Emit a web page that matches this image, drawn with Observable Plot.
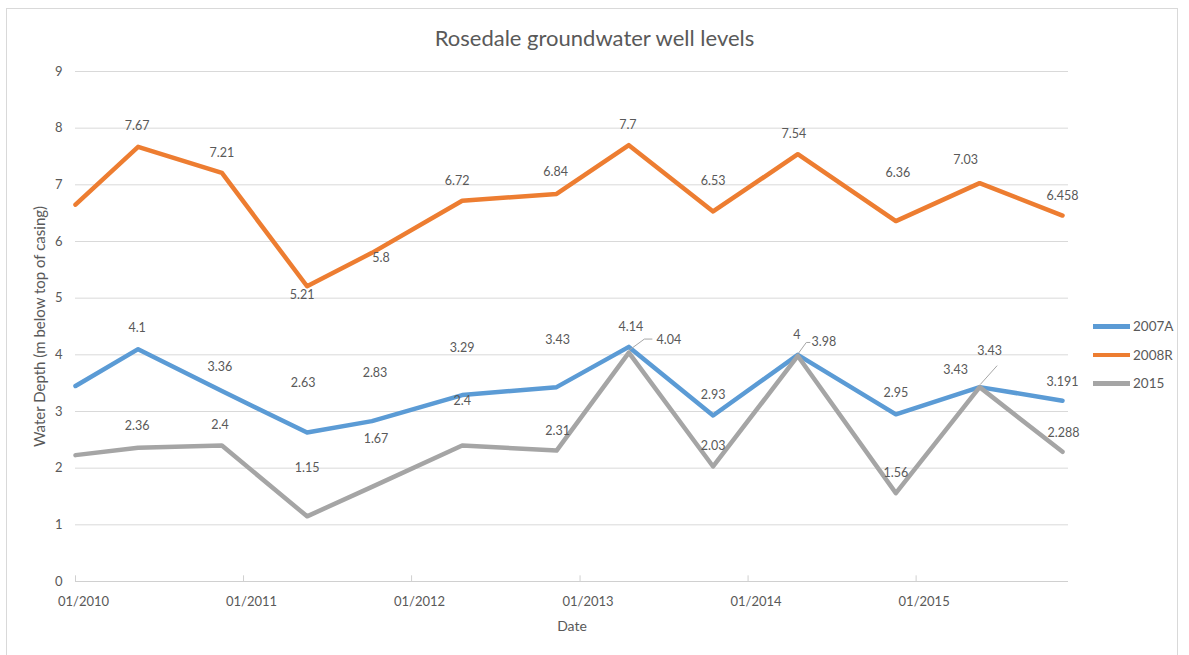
<!DOCTYPE html>
<html>
<head>
<meta charset="utf-8">
<script src="https://cdn.jsdelivr.net/npm/d3@7"></script>
<script src="https://cdn.jsdelivr.net/npm/@observablehq/plot@0.6"></script>
<style>
  body { margin: 0; background: #fff; }
  #chart { position: relative; width: 1189px; height: 655px; overflow: hidden;
           font-family: Lato, "Open Sans", sans-serif; color: #595959; background: #fff; }
  #frame { position: absolute; left: 6px; top: 8px; width: 1172px; height: 680px;
           border: 1px solid #d9d9d9; box-sizing: border-box; }
  #title { position: absolute; left: 0; top: 24px; width: 1189px; text-align: center;
           font-size: 22px; }
  #plot { position: absolute; left: 0; top: 0; }
  #legend { position: absolute; left: 1093px; top: 312px; font-size: 13.5px; }
  .item { display: flex; align-items: center; height: 28.5px; }
  .swatch { width: 37px; height: 4.5px; margin-right: 3px; }
</style>
</head>
<body>
<div id="chart">
  <div id="frame"></div>
  <div id="title">Rosedale groundwater well levels</div>
  <div id="plot"></div>
  <div id="legend"></div>
</div>
<script>
// Survey dates and measured water depths (m below top of casing) for each well
const dates = ["2010-01-01", "2010-05-17", "2010-11-15", "2011-05-19", "2011-10-07",
               "2012-04-20", "2012-11-11", "2013-04-17", "2013-10-17", "2014-04-19",
               "2014-11-18", "2015-05-19", "2015-11-15"];
const wellNames = ["2007A", "2008R", "2015"];
const well2007A = [3.45, 4.1, 3.36, 2.63, 2.83, 3.29, 3.43, 4.14, 2.93, 4, 2.95, 3.43, 3.191];
const well2008R = [6.65, 7.67, 7.21, 5.21, 5.8, 6.72, 6.84, 7.7, 6.53, 7.54, 6.36, 7.03, 6.458];
const well2015  = [2.23, 2.36, 2.4, 1.15, 1.67, 2.4, 2.31, 4.04, 2.03, 3.98, 1.56, 3.43, 2.288];
const yTicks = [0, 1, 2, 3, 4, 5, 6, 7, 8, 9];
const xTicks = ["2010-01-01", "2011-01-01", "2012-01-01", "2013-01-01", "2014-01-01", "2015-01-01"];
const xEnd = "2015-11-28";

const colors = ["#5b9bd5", "#ed7d31", "#a5a5a5"];
const seriesValues = [well2007A, well2008R, well2015];

// Label placement (pixel nudges from each point); the first survey is unlabelled
const labelNudge = [
  [null, [-1,-21], [-2,-24], [-4,-49], [3,-48], [0,-47], [1,-47], [2,-20], [0,-20], [-1,-20], [0,-21], [-24,-17], [0,-19]],
  [null, [-1,-21], [0,-20], [-5,9], [9,5], [-5,-20], [-1,-22], [-1,-20], [0,-30], [-4,-20], [2,-48], [-14,-23], [0,-20]],
  [null, [-1,-22], [-2,-21], [0,-48], [4,-48], [0,-45], [1,-20], [40,-13], [0,-20], [26,-14], [0,-20], [10,-36], [1,-19]]
];
// Leader lines for the offset labels of well 2015
const leaderPaths = [
  [7, [[1,-2],[16,-13],[24,-13]]],
  [9, [[1,-2],[9,-13],[13,-13]]],
  [11, [[1,-2],[18,-21]]]
];

const rows = wellNames.flatMap((name, s) =>
  seriesValues[s].map((v, i) => ({series: name, date: new Date(dates[i]), value: v, i})));

const labelMarks = [];
wellNames.forEach((name, s) => {
  seriesValues[s].forEach((v, i) => {
    const n = labelNudge[s][i];
    if (!n) return;
    labelMarks.push(Plot.text([rows.find(r => r.series === name && r.i === i)], {
      x: "date", y: "value", text: d => String(d.value),
      dx: n[0], dy: n[1], fontSize: 12.5, fill: "#595959"
    }));
  });
});

function leaders(index, scales) {
  const g = d3.create("svg:g").attr("fill", "none").attr("stroke", "#a6a6a6").attr("stroke-width", 1);
  for (const [i, pts] of leaderPaths) {
    const px = scales.x(new Date(dates[i])), py = scales.y(well2015[i]);
    g.append("path").attr("d", d3.line()(pts.map(([a, b]) => [px + a, py + b])));
  }
  return g.node();
}

const chart = Plot.plot({
  width: 1189,
  height: 655,
  marginLeft: 75,
  marginRight: 121,
  marginTop: 71,
  marginBottom: 74,
  style: {fontFamily: "Lato, 'Open Sans', sans-serif", fontSize: "13px", color: "#595959", background: "transparent"},
  x: {type: "utc", domain: [new Date(dates[0]), new Date(xEnd)]},
  y: {domain: [0, 9]},
  color: {domain: wellNames, range: colors},
  marks: [
    Plot.ruleY(yTicks.slice(1), {stroke: "#d9d9d9", strokeWidth: 1}),
    Plot.ruleY([0], {stroke: "#d0d0d0", strokeWidth: 1}),
    Plot.ruleX(xTicks, {x: d => new Date(d), y1: 0, y2: 0.1, stroke: "#d0d0d0"}),
    Plot.axisY({ticks: yTicks, tickSize: 0, tickPadding: 13, label: null, fontSize: 13}),
    Plot.axisX({ticks: xTicks.map(d => new Date(d)), tickFormat: d3.utcFormat("%m/%Y"),
                tickSize: 0, tickPadding: 15, dx: 8, label: null, fontSize: 13}),
    Plot.text(["Water Depth (m below top of casing)"], {frameAnchor: "left", textAnchor: "middle",
              rotate: -90, dx: -35, fontSize: 15, fill: "#595959"}),
    Plot.text(["Date"], {frameAnchor: "bottom", dy: 49, fontSize: 14, fill: "#595959"}),
    Plot.line(rows, {x: "date", y: "value", z: "series", stroke: "series", strokeWidth: 4.5,
                     strokeLinejoin: "round", strokeLinecap: "round"}),
    leaders,
    ...labelMarks
  ]
});
document.getElementById("plot").append(chart);

const legend = document.getElementById("legend");
wellNames.forEach((name, s) => {
  const item = document.createElement("div");
  item.className = "item";
  item.innerHTML = `<span class="swatch" style="background:${colors[s]}"></span><span>${name}</span>`;
  legend.append(item);
});
</script>
</body>
</html>
